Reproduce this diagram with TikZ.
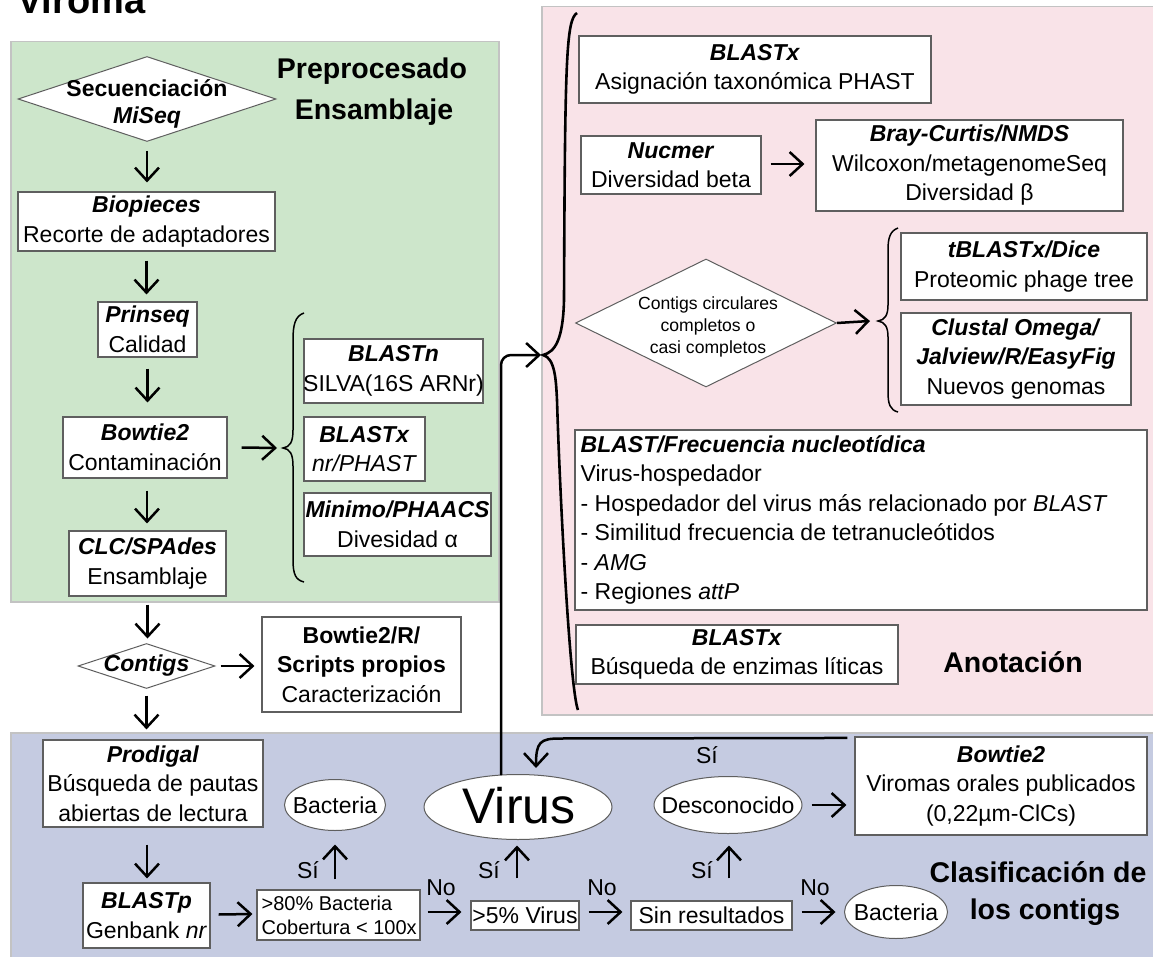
\documentclass[tikz,border=0pt]{standalone}
\usepackage{fontspec}
\setmainfont{Liberation Sans}
\usetikzlibrary{shapes.geometric,arrows.meta,calc}
\definecolor{gfill}{RGB}{205,230,203}
\definecolor{pfill}{RGB}{249,227,232}
\definecolor{bfill}{RGB}{197,203,225}
\definecolor{panelline}{RGB}{195,195,195}
\definecolor{boxline}{RGB}{95,95,95}
\newcommand{\bi}[1]{\textbf{\textit{#1}}}
\newcommand{\Bx}[6]{%
  \node[rbox,minimum width=#4pt,minimum height=#5pt] (#1) at (#2,#3) {};
  \node[txt] (#1t) at (#1) {#6};}
\begin{document}
\begin{tikzpicture}[x=1pt,y=-1pt,
  rbox/.style={draw=boxline,fill=white,line width=1.1pt,inner sep=0pt},
  dia/.style={shape=diamond,draw=boxline,fill=white,line width=1pt,inner sep=0pt},
  ell/.style={shape=ellipse,draw=boxline,fill=white,line width=1pt,inner sep=0pt},
  txt/.style={font=\fontsize{23}{29.5}\selectfont,align=center,inner sep=0pt},
  small/.style={font=\fontsize{20}{24}\selectfont,align=left,inner sep=0pt},
  hdr/.style={font=\fontsize{28.5}{34}\selectfont\bfseries,inner sep=0pt},
  lab/.style={font=\fontsize{23}{28}\selectfont,inner sep=0pt},
  arr/.style={line width=2.5pt,-{Straight Barb[length=13pt,width=24pt]}},
  brc/.style={line width=1.5pt},
  panel/.style={draw=panelline,line width=1.5pt,inner sep=0pt,anchor=north west}]
\clip (0,0) rectangle (1153,957);
\useasboundingbox (0,0) rectangle (1153,957);
\fill[white] (0,0) rectangle (1153,957);

% title
\node[font=\fontsize{38}{40}\selectfont\bfseries,anchor=base west,inner sep=0pt] (title) at (17,14) {Viroma};

% panels
\node[panel,fill=gfill,minimum width=488pt,minimum height=560pt] (green) at (10,41) {};
\node[panel,fill=pfill,minimum width=630pt,minimum height=708pt] (pink) at (541,6) {};
\node[panel,fill=bfill,minimum width=1160pt,minimum height=240pt] (blue) at (10,732) {};

% ---------- green panel ----------
\node[dia,minimum width=258pt,minimum height=85pt] (seq) at (147,99) {};
\node[txt,font=\fontsize{23}{27}\selectfont] (seqt) at (147,104) {\textbf{Secuenciación}\\\bi{MiSeq}};
\node[hdr] (pre) at (372,71) {Preprocesado};
\node[hdr] (ens) at (374,112) {Ensamblaje};
\Bx{bio}{146.5}{221.5}{257}{59}{\bi{Biopieces}\\Recorte de adaptadores}
\Bx{prin}{147.5}{329.5}{99}{55}{\bi{Prinseq}\\Calidad}
\Bx{bow}{145}{447.5}{164}{61}{\bi{Bowtie2}\\Contaminación}
\Bx{clc}{147.5}{563.5}{157}{65}{\bi{CLC/SPAdes}\\Ensamblaje}
\Bx{bn}{393.5}{371}{179}{64}{\bi{BLASTn}\\SILVA(16S ARNr)}
\Bx{bx}{364.5}{449}{121}{64}{\bi{BLASTx}\\\textit{nr/PHAST}}
\Bx{mini}{397.5}{524.5}{187}{63}{\bi{Minimo/PHAACS}\\Divesidad α}
\coordinate (b1tip) at (283,448);
\draw[brc] (304,313) .. controls (295,316) and (293,325) .. (293,340) -- (293,430)
  .. controls (293,442) and (290,447) .. (b1tip)
  .. controls (290,449) and (293,454) .. (293,466) -- (293,560)
  .. controls (293,575) and (296,580) .. (304,582);

% ---------- middle ----------
\node[dia,minimum width=137pt,minimum height=45pt] (cont) at (146.5,666) {};
\node[txt] (contt) at (cont) {\bi{Contigs}};
\Bx{bowr}{361.5}{664.5}{199}{95}{\textbf{Bowtie2/R/}\\\textbf{Scripts propios}\\Caracterización}

% ---------- pink panel ----------
\Bx{pbx}{755}{69.5}{352}{67}{\bi{BLASTx}\\Asignación taxonómica PHAST}
\Bx{nuc}{671}{165}{180}{58}{\bi{Nucmer}\\Diversidad beta}
\Bx{bray}{969.5}{165.5}{307}{91}{\bi{Bray-Curtis/NMDS}\\Wilcoxon/metagenomeSeq\\Diversidad β}
\node[dia,minimum width=261pt,minimum height=128pt] (circ) at (706,323) {};
\node[txt,font=\fontsize{17.6}{22}\selectfont] (circt) at (708,327) {Contigs circulares\\completos o\\casi completos};
\Bx{tbx}{1024}{266.5}{246}{67}{\bi{tBLASTx/Dice}\\Proteomic phage tree}
\Bx{clu}{1016}{359}{230}{92}{\bi{Clustal Omega/}\\\bi{Jalview/R/EasyFig}\\Nuevos genomas}
\coordinate (b2tip) at (878,321);
\draw[brc] (898,228) .. controls (890,231) and (888,238) .. (888,250) -- (888,305)
  .. controls (888,315) and (885,320) .. (b2tip)
  .. controls (885,322) and (888,327) .. (888,337) -- (888,392)
  .. controls (888,404) and (890,410) .. (898,412);
\node[rbox,minimum width=572pt,minimum height=180pt] (frec) at (861,520) {};
\node[txt,align=left,anchor=west] (frect) at ($(frec.west)+(6,0)$) {\bi{BLAST/Frecuencia nucleotídica}\\Virus-hospedador\\- Hospedador del virus más relacionado por \textit{BLAST}\\- Similitud frecuencia de tetranucleótidos\\- \textit{AMG}\\- Regiones \textit{attP}};
\Bx{lyt}{737}{654.5}{322}{59}{\bi{BLASTx}\\Búsqueda de enzimas líticas}
\node[hdr] (anot) at (1013,662) {Anotación};
\coordinate (bbtip) at (543,355);
\draw[line width=2.6pt] (577,13) .. controls (566,20) and (565,60) .. (564,300)
  .. controls (563,340) and (555,352) .. (bbtip)
  .. controls (555,358) and (556,380) .. (557,400)
  .. controls (560,500) and (570,690) .. (578,710);

% ---------- blue panel ----------
\Bx{prod}{153}{783.5}{220}{87}{\bi{Prodigal}\\Búsqueda de pautas\\abiertas de lectura}
\Bx{blp}{146.5}{915.5}{127}{65}{\bi{BLASTp}\\Genbank \textit{nr}}
\node[rbox,minimum width=163pt,minimum height=50pt] (b80) at (338.5,915) {};
\node[small,anchor=west] (b80t) at ($(b80.west)+(5,0)$) {>80\% Bacteria\\Cobertura < 100x};
\node[ell,minimum width=101pt,minimum height=51pt] (bac1) at (335,805) {};
\node[txt] (bac1t) at (bac1) {Bacteria};
\node[ell,minimum width=188pt,minimum height=65pt] (virus) at (518,807) {};
\node[txt,font=\fontsize{50}{55}\selectfont] (virust) at (519,806) {Virus};
\Bx{v5}{525}{915.5}{108}{29}{>5\% Virus}
\Bx{sin}{711.5}{915.5}{161}{29}{Sin resultados}
\node[ell,minimum width=148pt,minimum height=57pt] (desc) at (728,805) {};
\node[txt] (desct) at (desc) {Desconocido};
\node[ell,minimum width=103pt,minimum height=53pt] (bac2) at (896,912) {};
\node[txt] (bac2t) at (bac2) {Bacteria};
\Bx{bw2}{1001}{786}{292}{98}{\bi{Bowtie2}\\Viromas orales publicados\\(0,22µm-ClCs)}
\node[hdr] (clas1) at (1038,872) {Clasificación de};
\node[hdr] (clas2) at (1045,912) {los contigs};

% ---------- arrows ----------
\draw[arr] ($(seq.south)+(0,9)$) -- ($(seq.south |- bio.north)+(0,-9)$);
\draw[arr] ($(bio.south)+(0,9)$) -- ($(bio.south |- prin.north)+(0,-7)$);
\draw[arr] ($(prin.south)+(0,11)$) -- ($(prin.south |- bow.north)+(0,-14)$);
\draw[arr] ($(bow.south)+(2,12)$) -- ($(bow.south |- clc.north)+(2,-7)$);
\draw[arr] ($(clc.south)+(0,8)$) -- ($(clc.south |- cont.north)+(0,-4.5)$);
\draw[arr] ($(cont.south)+(0,6.5)$) -- ($(cont.south |- prod.north)+(0,-10)$);
\draw[arr] ($(prod.south)+(-6,17)$) -- ($(prod.south |- blp.north)+(-6,-4)$);
\draw[arr] ($(bow.east)+(14,0)$) -- ($(b1tip)+(-6,0)$);
\draw[arr] ($(cont.east)+(5,0)$) -- ($(bowr.west)+(-7,1.5)$);
\draw[arr] ($(blp.east)+(8,-1)$) -- ($(b80.west)+(-4,-1)$);
\draw[arr] ($(b80.east)+(7,-3)$) -- ($(v5.west)+(-9,-3.5)$);
\draw[arr] ($(v5.east)+(9,-3.5)$) -- ($(sin.west)+(-8,-3.5)$);
\draw[arr] ($(sin.east)+(9,-3.5)$) -- ($(bac2.west)+(-8.5,0)$);
\draw[arr] ($(desc.east)+(9,0)$) -- ($(bw2.west)+(-8,19)$);
\draw[arr] ($(nuc.east)+(9,-1)$) -- ($(bray.west)+(-11,-1.5)$);
\draw[arr] (circ.east) -- ($(b2tip)+(-8,0)$);
\draw[arr] ($(b80.north)+(-3.5,-10)$) -- ($(b80.north |- bac1.south)+(-3.5,13.5)$);
\draw[arr] ($(v5.north)+(-8,-22)$) -- ($(v5.north |- virus.south)+(-8,5.5)$);
\draw[arr] ($(sin.north)+(17.5,-22)$) -- ($(sin.north |- desc.south)+(17.5,11.5)$);
\draw[arr,rounded corners=10pt,shorten >=2pt] ($(virus.north)+(-17,1)$) |- (bbtip);
\draw[arr] ($(bw2.north west)+(-7,1.5)$) -- (560,738.5) .. controls (540,738.5) and (536,742) .. ($(virus.north)+(18,-6)$);

% ---------- Si / No labels ----------
\node[lab] (si1) at (308,870) {Sí};
\node[lab] (si2) at (489,870) {Sí};
\node[lab] (si3) at (702,870) {Sí};
\node[lab] (si4) at (707,755) {Sí};
\node[lab] (no1) at (441,888) {No};
\node[lab] (no2) at (602,888) {No};
\node[lab] (no3) at (815,888) {No};
\end{tikzpicture}
\end{document}
